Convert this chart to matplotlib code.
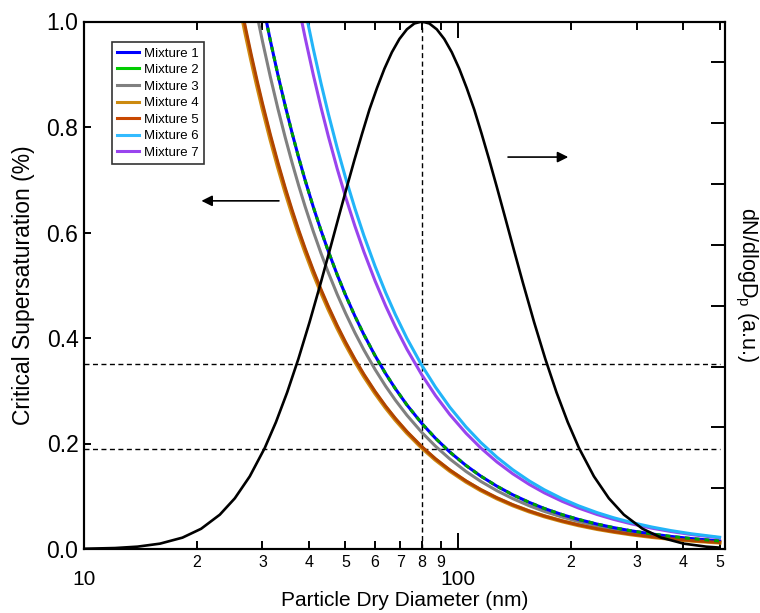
import matplotlib
matplotlib.use("Agg")
import matplotlib.pyplot as plt
from matplotlib.lines import Line2D

plt.rcParams['font.family'] = ['Liberation Sans', 'DejaVu Sans']
plt.rcParams['mathtext.default'] = 'regular'

# Dry diameters (nm) at which critical supersaturation is tabulated
diam_sc = [24, 25, 26, 27, 28, 29, 30, 31.5, 33, 34.5, 36, 37.5, 39, 41, 43, 45,
           47.5, 50, 53, 56, 60, 64, 68, 73, 80, 87, 95, 105, 115, 127, 140, 155,
           170, 190, 210, 235, 260, 290, 330, 370, 420, 500]

# Critical supersaturation (%) for each mixture
sc_mix1 = [1.4484, 1.3624, 1.2846, 1.2138, 1.1494, 1.0905, 1.0364, 0.9633, 0.8983,
           0.8404, 0.7884, 0.7416, 0.6992, 0.6487, 0.6040, 0.5642, 0.5202, 0.4817,
           0.4414, 0.4064, 0.3664, 0.3326, 0.3037, 0.2730, 0.2380, 0.2099, 0.1839,
           0.1583, 0.1381, 0.1190, 0.1028, 0.0883, 0.0768, 0.0650, 0.0560, 0.0473,
           0.0406, 0.0345, 0.0284, 0.0239, 0.0198, 0.0152]
sc_mix2 = [1.4484, 1.3624, 1.2846, 1.2138, 1.1494, 1.0905, 1.0364, 0.9633, 0.8983,
           0.8404, 0.7884, 0.7416, 0.6992, 0.6487, 0.6040, 0.5642, 0.5202, 0.4817,
           0.4414, 0.4064, 0.3664, 0.3326, 0.3037, 0.2730, 0.2380, 0.2099, 0.1839,
           0.1583, 0.1381, 0.1190, 0.1028, 0.0883, 0.0768, 0.0650, 0.0560, 0.0473,
           0.0406, 0.0345, 0.0284, 0.0239, 0.0198, 0.0152]
sc_mix3 = [1.3450, 1.2651, 1.1928, 1.1271, 1.0673, 1.0126, 0.9624, 0.8945, 0.8342,
           0.7804, 0.7321, 0.6886, 0.6493, 0.6024, 0.5608, 0.5239, 0.4830, 0.4473,
           0.4098, 0.3774, 0.3403, 0.3088, 0.2820, 0.2535, 0.2210, 0.1949, 0.1708,
           0.1470, 0.1282, 0.1105, 0.0955, 0.0819, 0.0713, 0.0604, 0.0520, 0.0439,
           0.0377, 0.0320, 0.0264, 0.0222, 0.0184, 0.0141]
sc_mix4 = [1.1685, 1.0991, 1.0363, 0.9792, 0.9272, 0.8797, 0.8361, 0.7771, 0.7247,
           0.6780, 0.6360, 0.5983, 0.5641, 0.5233, 0.4872, 0.4551, 0.4197, 0.3886,
           0.3561, 0.3278, 0.2956, 0.2683, 0.2450, 0.2203, 0.1920, 0.1693, 0.1484,
           0.1277, 0.1114, 0.0960, 0.0829, 0.0712, 0.0620, 0.0525, 0.0451, 0.0381,
           0.0328, 0.0278, 0.0229, 0.0193, 0.0160, 0.0123]
sc_mix5 = [1.1806, 1.1105, 1.0471, 0.9894, 0.9369, 0.8889, 0.8448, 0.7852, 0.7323,
           0.6850, 0.6427, 0.6045, 0.5700, 0.5288, 0.4923, 0.4599, 0.4240, 0.3926,
           0.3598, 0.3313, 0.2987, 0.2711, 0.2476, 0.2226, 0.1940, 0.1711, 0.1499,
           0.1290, 0.1126, 0.0970, 0.0838, 0.0719, 0.0626, 0.0530, 0.0456, 0.0385,
           0.0331, 0.0281, 0.0232, 0.0195, 0.0161, 0.0124]
sc_mix6 = [2.1179, 1.9921, 1.8783, 1.7749, 1.6806, 1.5945, 1.5154, 1.4085, 1.3135,
           1.2288, 1.1528, 1.0843, 1.0224, 0.9485, 0.8831, 0.8249, 0.7606, 0.7043,
           0.6454, 0.5942, 0.5358, 0.4863, 0.4441, 0.3992, 0.3480, 0.3069, 0.2689,
           0.2314, 0.2019, 0.1740, 0.1503, 0.1290, 0.1123, 0.0951, 0.0818, 0.0691,
           0.0594, 0.0504, 0.0416, 0.0350, 0.0289, 0.0223]
sc_mix7 = [2.0083, 1.8890, 1.7811, 1.6831, 1.5937, 1.5120, 1.4370, 1.3356, 1.2456,
           1.1653, 1.0932, 1.0282, 0.9695, 0.8994, 0.8374, 0.7822, 0.7213, 0.6679,
           0.6120, 0.5635, 0.5081, 0.4612, 0.4211, 0.3786, 0.3300, 0.2910, 0.2550,
           0.2195, 0.1915, 0.1650, 0.1426, 0.1224, 0.1065, 0.0902, 0.0776, 0.0655,
           0.0563, 0.0478, 0.0394, 0.0332, 0.0274, 0.0211]

mix_labels = ['Mixture 1', 'Mixture 2', 'Mixture 3', 'Mixture 4',
              'Mixture 5', 'Mixture 6', 'Mixture 7']

# Number size distribution (normalised, a.u.)
diam_dist = [10.0, 12.11, 13.90, 15.96, 18.33, 20.56, 23.07, 25.30, 27.74, 30.42,
             32.59, 34.92, 37.42, 40.09, 42.96, 45.51, 48.20, 50.48, 52.86, 55.35,
             57.95, 60.69, 63.55, 66.54, 69.68, 72.96, 76.40, 80.0, 83.77, 87.72,
             91.85, 96.18, 100.71, 105.46, 110.43, 115.64, 121.08, 126.79, 132.77,
             140.63, 148.97, 159.62, 171.04, 183.27, 196.38, 210.42, 230.72,
             252.98, 277.39, 311.24, 349.21, 400.95, 460.35, 500.0]
dndlogdp = [0.00048, 0.00184, 0.00446, 0.01014, 0.02154, 0.03832, 0.06507,
            0.09608, 0.13769, 0.19150, 0.24046, 0.29690, 0.36045, 0.43028,
            0.50506, 0.56982, 0.63539, 0.68742, 0.73816, 0.78673, 0.83322,
            0.87378, 0.91056, 0.94180, 0.96683, 0.98512, 0.99626, 1.0,
            0.99626, 0.98512, 0.96683, 0.94180, 0.91056, 0.87378, 0.83322,
            0.78673, 0.73816, 0.68742, 0.63539, 0.56982, 0.50506, 0.43028,
            0.36045, 0.29690, 0.24046, 0.19150, 0.13769, 0.09608, 0.06507,
            0.03832, 0.02154, 0.01014, 0.00446, 0.00265]

# Reference markers: mode diameter and the Sc range at that diameter
mode_diam = 80
sc_range = [0.35, 0.19]
guide_x = [10, 500]

major_x = [10, 100]
minor_x = [20, 30, 40, 50, 60, 70, 80, 90, 200, 300, 400, 500]
minor_x_labels = ['2', '3', '4', '5', '6', '7', '8', '9', '2', '3', '4', '5']
left_y = [0.0, 0.2, 0.4, 0.6, 0.8, 1.0]
right_y = [0.0, 0.1153, 0.2306, 0.3459, 0.4612, 0.5765, 0.6918, 0.8071, 0.9224]

fig = plt.figure(figsize=(7.6, 6.13), dpi=100)
ax = fig.add_axes([84 / 760, 64 / 613, 641 / 760, 527.5 / 613])
ax.set_xscale('log')
ax.set_xlim(10, 517)
ax.set_ylim(0, 1.0)

lw = 2.2
ax.plot(diam_sc, sc_mix4, color='#d08a10', lw=lw + 0.8, zorder=3)
ax.plot(diam_sc, sc_mix5, color='#b04400', lw=lw, zorder=4)
ax.plot(diam_sc, sc_mix3, color='#808080', lw=lw, zorder=3)
ax.plot(diam_sc, sc_mix1, color='#0000ff', lw=lw, zorder=3)
ax.plot(diam_sc, sc_mix2, color='#00a000', lw=lw, ls=(0, (1.6, 1.6)), zorder=4)
ax.plot(diam_sc, sc_mix7, color='#9944ee', lw=lw, zorder=3)
ax.plot(diam_sc, sc_mix6, color='#22b4f8', lw=lw, zorder=3)

dash = (0, (3.6, 2.5))
ax.plot([mode_diam, mode_diam], [0, 1], color='black', lw=1.0, ls=dash, zorder=2)
for s in sc_range:
    ax.plot(guide_x, [s, s], color='black', lw=1.0, ls=dash, zorder=2)

# direction arrows
ax.annotate('', xy=(20.6, 0.66), xytext=(33.2, 0.66),
            arrowprops=dict(arrowstyle='-|>', color='black', lw=1.2,
                            mutation_scale=16, shrinkA=0, shrinkB=0))
ax.annotate('', xy=(197, 0.743), xytext=(136, 0.743),
            arrowprops=dict(arrowstyle='-|>', color='black', lw=1.2,
                            mutation_scale=16, shrinkA=0, shrinkB=0))

ax.set_xticks(major_x)
ax.set_xticklabels(['10', '100'])
ax.set_xticks(minor_x, minor=True)
ax.set_xticklabels(minor_x_labels, minor=True)
ax.set_yticks(left_y)
ax.set_yticklabels(['%.1f' % v for v in left_y])

ax.tick_params(axis='x', which='major', direction='in', length=11.5, width=1.4,
               labelsize=15, pad=15, top=True)
ax.tick_params(axis='x', which='minor', direction='in', length=6, width=1.4,
               labelsize=11.5, pad=4, top=True)
ax.tick_params(axis='y', which='major', direction='in', length=5, width=1.4,
               labelsize=16.5, pad=4, right=False)
for sp in ax.spines.values():
    sp.set_linewidth(1.5)

ax.set_xlabel('Particle Dry Diameter (nm)', fontsize=15)
ax.xaxis.set_label_coords(0.5, -0.0805)
ax.set_ylabel('Critical Supersaturation (%)', fontsize=16.5)
ax.yaxis.set_label_coords(-0.076, 0.5)

ax2 = ax.twinx()
ax2.set_ylim(0, 1.0)
ax2.plot(diam_dist, dndlogdp, color='black', lw=1.9, zorder=5)
ax2.set_yticks(right_y)
ax2.tick_params(axis='y', direction='in', length=10, width=1.4, labelright=False)
for sp in ax2.spines.values():
    sp.set_linewidth(1.5)
ax2.set_ylabel('dN/dlogD$_p$ (a.u.)', fontsize=15.5, rotation=270,
               va='center', ha='center')
ax2.yaxis.set_label_coords(1.0335, 0.5)

colors = ['#0000ff', '#00cc00', '#808080', '#cc8a10', '#c84800', '#33bbff', '#9944ee']
handles = [Line2D([], [], color=c, lw=2.2) for c in colors]
leg = ax2.legend(handles, mix_labels, loc='upper left',
                 bbox_to_anchor=(112 / 760, 1 - 42 / 613),
                 bbox_transform=fig.transFigure, fontsize=9.5,
                 frameon=True, fancybox=False, edgecolor='black',
                 borderaxespad=0, handlelength=1.65, handletextpad=0.35,
                 labelspacing=0.33, borderpad=0.4)
leg.get_frame().set_linewidth(1.2)

fig.savefig('out.png', dpi=100)
